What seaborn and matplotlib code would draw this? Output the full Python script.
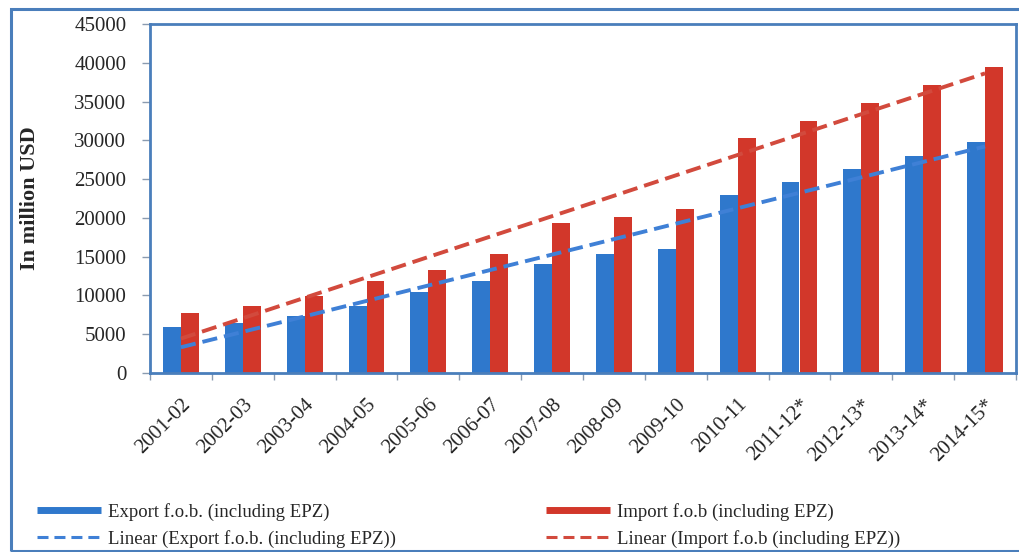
import numpy as np
import pandas as pd
import matplotlib
matplotlib.use("Agg")
import matplotlib.pyplot as plt
from matplotlib.patches import Rectangle
from matplotlib.lines import Line2D
from matplotlib.ticker import FixedLocator
import seaborn as sns

years = ["2001-02", "2002-03", "2003-04", "2004-05", "2005-06", "2006-07", "2007-08",
         "2008-09", "2009-10", "2010-11", "2011-12*", "2012-13*", "2013-14*", "2014-15*"]
export_vals = [5900, 6500, 7300, 8600, 10400, 11900, 14100, 15400, 16000, 22900,
               24600, 26300, 28000, 29800]
import_vals = [7700, 8700, 9900, 11800, 13300, 15300, 19400, 20100, 21200, 30300,
               32500, 34800, 37100, 39400]
export_label = "Export f.o.b. (including EPZ)"
import_label = "Import f.o.b (including EPZ)"
export_trend_label = "Linear (Export f.o.b. (including EPZ))"
import_trend_label = "Linear (Import f.o.b (including EPZ))"

blue = "#2f78cc"
red = "#d2372a"
blue_line = "#3f80d6"
red_line = "#d24a3d"
frame = "#4a7ebb"

sns.set_theme(style="white")
plt.rcParams["font.family"] = ["Liberation Serif", "DejaVu Serif"]

df = pd.DataFrame({
    "year": years * 2,
    "value": export_vals + import_vals,
    "series": [export_label] * len(years) + [import_label] * len(years),
})

fig = plt.figure(figsize=(10.19, 5.52), dpi=100)
ax = fig.add_axes([150 / 1019, 1 - 373 / 552, (1016 - 150) / 1019, (373 - 24) / 552])

sns.barplot(data=df, x="year", y="value", hue="series", order=years,
            hue_order=[export_label, import_label],
            palette=[blue, red], width=0.58, gap=0, saturation=1,
            linewidth=0, ax=ax, legend=False)

xs = np.arange(len(years))
for vals, col in [(export_vals, blue_line), (import_vals, red_line)]:
    k, b = np.polyfit(xs, vals, 1)
    ax.plot(xs, k * xs + b, color=col, lw=2.8, linestyle=(0, (3.9, 1.8)),
            dash_capstyle="butt", zorder=5)

ax.set_xlim(-0.5, len(years) - 0.5)
ax.set_ylim(0, 45000)
ax.set_yticks(np.arange(0, 45001, 5000))
ax.set_yticklabels([str(v) for v in range(0, 45001, 5000)], fontsize=15)
ax.set_xticks(xs)
ax.set_xticklabels(years, rotation=45, ha="right", rotation_mode="anchor", fontsize=15)
ax.xaxis.set_minor_locator(FixedLocator(np.arange(-0.5, len(years), 1.0)))
ax.tick_params(axis="x", which="major", length=0, pad=16)
ax.tick_params(axis="x", which="minor", length=5, width=1, color="#8a9bb0", direction="out", bottom=True)
ax.tick_params(axis="y", length=6, width=1, color="#8a9bb0", direction="out", left=True, pad=11)
ax.set_xlabel("")
ax.set_ylabel("In million USD", fontsize=16, fontweight="bold")
ax.yaxis.set_label_coords(-0.127, 0.5)
for s in ax.spines.values():
    s.set_color(frame)
    s.set_linewidth(2)
    s.set_visible(True)

# outer chart border
fig.patches.append(Rectangle((11 / 1019, 0.002), 1.2, 1 - 9 / 552 - 0.002,
                             transform=fig.transFigure, fill=False,
                             edgecolor=frame, linewidth=2.2, clip_on=False))

handles = [
    Line2D([0], [0], color=blue, lw=5, solid_capstyle="butt"),
    Line2D([0], [0], color=blue_line, lw=2.2, linestyle=(0, (3.6, 1.95)), dash_capstyle="butt"),
    Line2D([0], [0], color=red, lw=5, solid_capstyle="butt"),
    Line2D([0], [0], color=red_line, lw=2.2, linestyle=(0, (3.6, 1.95)), dash_capstyle="butt"),
]
labels = [export_label, export_trend_label, import_label, import_trend_label]
fig.legend(handles, labels, ncol=2, loc="upper left", bbox_to_anchor=(0.020, 0.119),
           frameon=False, fontsize=13.5, handlelength=3.4, handletextpad=0.37,
           columnspacing=8.0, labelspacing=0.46, borderpad=0.4)

fig.savefig("out.png", dpi=100)
